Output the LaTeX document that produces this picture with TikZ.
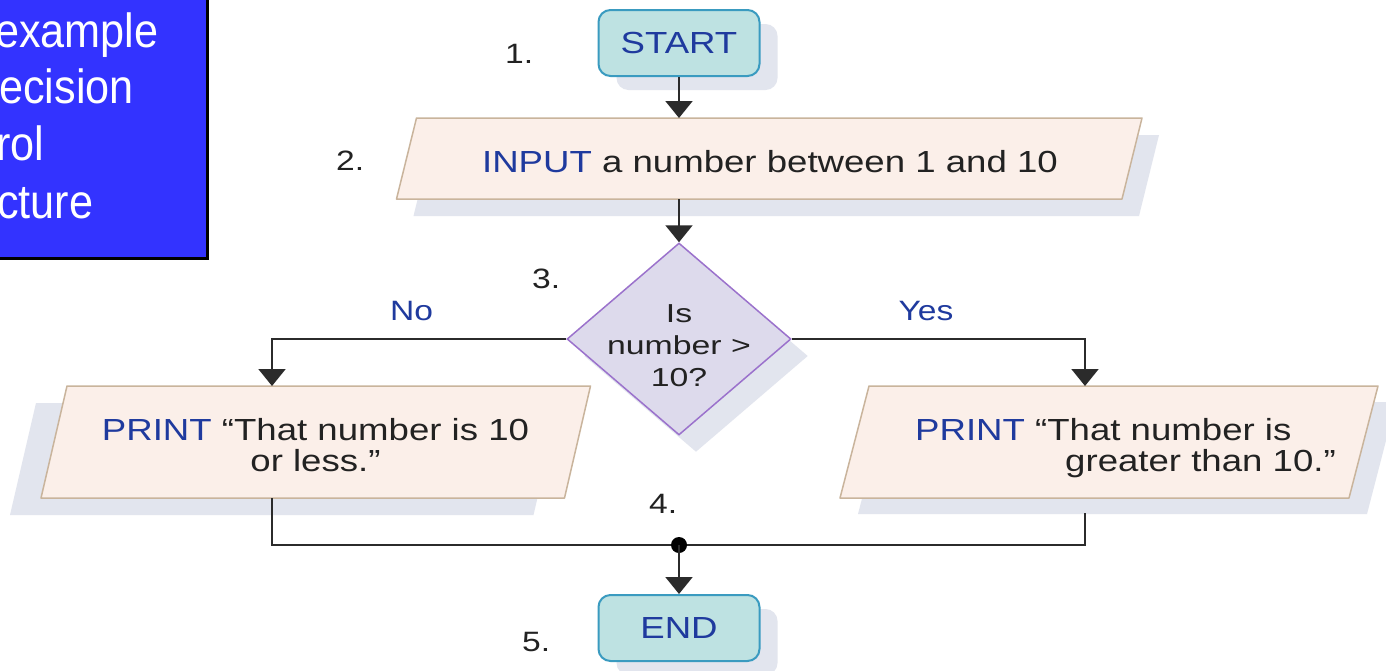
\documentclass[tikz,border=0pt]{standalone}
\usepackage{fontspec}
\setmainfont{Liberation Sans}[FakeStretch=1.2]
\newfontfamily\slidefont{Liberation Sans}[FakeStretch=0.9]
\newfontfamily\decfont{Liberation Sans}[FakeStretch=1.3]
\usetikzlibrary{shapes.geometric,shadows,arrows.meta,calc}
\definecolor{slideblue}{HTML}{3333FF}
\definecolor{tblue}{HTML}{1F3A9E}
\definecolor{txtgray}{HTML}{222222}
\definecolor{shadowc}{HTML}{E2E5EE}
\definecolor{pfill}{HTML}{FBEFE9}
\definecolor{pdraw}{HTML}{C9B49C}
\definecolor{tfill}{HTML}{BEE2E2}
\definecolor{tdraw}{HTML}{3A9BC0}
\definecolor{dfill}{HTML}{DDDAEC}
\definecolor{ddraw}{HTML}{9B72CC}
\definecolor{lcol}{HTML}{2B2B2B}
\newcommand\parashape[6]{% name, top dx, shadow top dx, shadow bottom dx, shadow dy, bottom dx
  \fill[shadowc] ($(#1.north west)+(#3,#5)$) -- ($(#1.north east)+(#3,#5)$) -- ($(#1.south east)+(#4,#5)$) -- ($(#1.south west)+(#4,#5)$) -- cycle;
  \filldraw[pbox] ($(#1.north west)+(#2,0)$) -- ($(#1.north east)+(#2,0)$) -- ($(#1.south east)+(#6,0)$) -- ($(#1.south west)+(#6,0)$) -- cycle;
}
\begin{document}
\begin{tikzpicture}[x=1pt,y=-1pt,
  frame/.style={draw=none,inner sep=0pt,outer sep=0pt},
  pbox/.style={fill=pfill,draw=pdraw,line width=1.5pt,line join=round},
  term/.style={rectangle,rounded corners=12pt,minimum width=161pt,minimum height=66pt,inner sep=0pt,
    fill=tfill,draw=tdraw,line width=2pt,text=tblue,font=\fontsize{30.5}{31}\selectfont,
    drop shadow={shadow xshift=18pt,shadow yshift=-14pt,fill=shadowc,opacity=1}},
  dia/.style={diamond,minimum width=224pt,minimum height=192pt,inner sep=0pt,aspect=1.1667,
    fill=dfill,draw=ddraw,line width=1.5pt,
    drop shadow={shadow xshift=17pt,shadow yshift=-17pt,fill=shadowc,opacity=1}},
  body/.style={inner sep=0pt,text=txtgray,font=\fontsize{30.5}{31}\selectfont},
  dtxt/.style={inner sep=0pt,text=txtgray,align=center,font=\decfont\fontsize{26}{32}\selectfont},
  lbl/.style={inner sep=0pt,anchor=base west,text=txtgray,font=\fontsize{28}{30}\selectfont},
  yn/.style={inner sep=0pt,anchor=base,text=tblue,font=\fontsize{28}{30}\selectfont},
  slidetxt/.style={inner sep=0pt,anchor=base west,text=white,font=\slidefont\fontsize{48}{57}\selectfont},
  conn/.style={draw=lcol,line width=2pt},
  arr/.style={conn,-{Triangle[width=27pt,length=17pt]}}]
\useasboundingbox (0,0) rectangle (1386,670);
\clip (0,0) rectangle (1386,670);
\fill[white] (0,0) rectangle (1386,670);
% slide title box
\draw[fill=slideblue,draw=black,line width=3pt] (-10,-10) rectangle (207,258);
\node[slidetxt] (s1) at (-5,47) {example};
\node[slidetxt] (s2) at (-1,103) {ecision};
\node[slidetxt] (s3) at (-4,160) {rol};
\node[slidetxt] (s4) at (-3,218) {cture};
% parallelogram frames
\node[frame,minimum width=725.5pt,minimum height=81pt] (inp) at (769.25,158.5) {};
\node[frame,minimum width=523.5pt,minimum height=112pt] (lbox) at (315.75,442) {};
\node[frame,minimum width=509pt,minimum height=112pt] (rbox) at (1109,442) {};
\parashape{inp}{10}{27}{7}{17}{-10}
\parashape{lbox}{13}{-18}{-44}{17}{-13}
\parashape{rbox}{14.5}{32.5}{3.5}{16}{-14.5}
% terminals and decision
\node[term] (start) at (679,43) {START};
\node[term] (end) at (679,628) {END};
\node[dia] (dec) at (679,339) {};
% connectors
\coordinate (j) at (679,545);
\draw[arr] (start.south) -- (start.south |- inp.north);
\draw[arr] (dec.north |- inp.south) -- (dec.north);
\draw[arr] (dec.west) -| ($(lbox.north west)+(218,0)$);
\draw[arr] (dec.east) -| ($(rbox.north west)+(230.5,0)$);
\draw[conn] ($(lbox.south west)+(218,0)$) |- (j);
\draw[conn] ($(rbox.south west)+(230.5,15)$) |- (j);
\fill[black] (j) circle (8pt);
\draw[arr] (j) -- (end.north);
% texts
\node[body,anchor=base] (inptxt) at (770,172) {\textcolor{tblue}{INPUT} a number between 1 and 10};
\node[body,align=center] (ltxt) at (315.5,445.5) {\textcolor{tblue}{PRINT} “That number is 10\\or less.”};
\node[body,align=left,anchor=west] (rtxt) at (915,448.5) {\textcolor{tblue}{PRINT} “That number is\\\hspace*{150pt}greater than 10.”};
\node[dtxt] (dtext) at (679,346) {Is\\number >\\10?};
\node[yn] (no) at (411.5,320) {No};
\node[yn] (yes) at (926,320) {Yes};
\node[lbl] (n1) at (505,63) {1.};
\node[lbl] (n2) at (336,170) {2.};
\node[lbl] (n3) at (532,288) {3.};
\node[lbl] (n4) at (649,513) {4.};
\node[lbl] (n5) at (522,651) {5.};
\end{tikzpicture}
\end{document}
